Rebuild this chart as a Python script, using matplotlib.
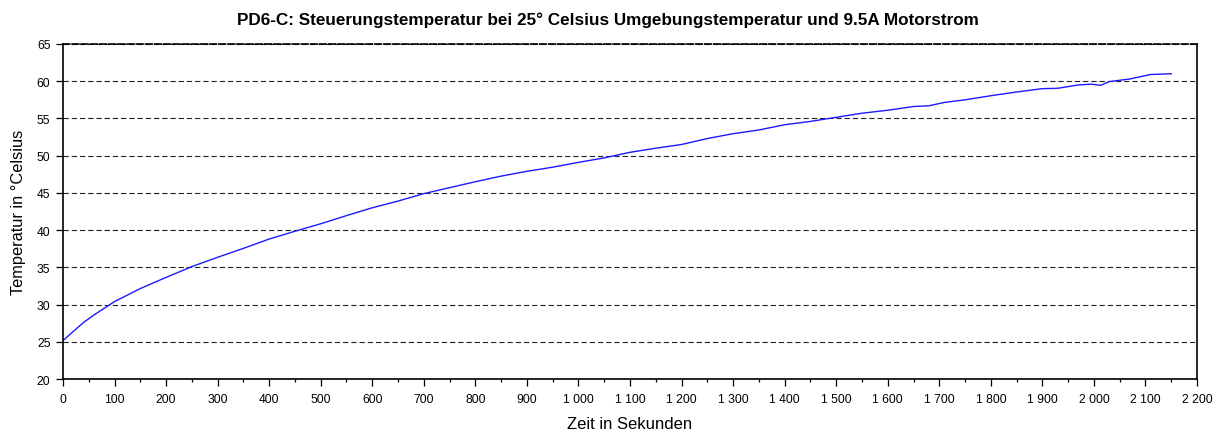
import matplotlib
matplotlib.use('Agg')
import matplotlib.pyplot as plt
from matplotlib.ticker import MultipleLocator, FuncFormatter

plt.rcParams['font.family'] = ['Liberation Sans', 'DejaVu Sans']

zeit = [0, 20, 40, 60, 80, 100, 150, 200, 250, 300, 350, 400, 450, 500, 550,
        600, 650, 700, 750, 800, 850, 900, 950, 1000, 1050, 1100, 1150, 1200,
        1250, 1300, 1350, 1400, 1450, 1500, 1550, 1600, 1650, 1680, 1710, 1750,
        1800, 1850, 1900, 1930, 1970, 1995, 2013, 2030, 2070, 2110, 2150]
temperatur = [25.15, 26.4, 27.6, 28.6, 29.5, 30.4, 32.15, 33.65, 35.1, 36.35,
              37.55, 38.8, 39.85, 40.85, 41.95, 43.0, 43.9, 44.9, 45.7, 46.5,
              47.25, 47.9, 48.45, 49.1, 49.7, 50.45, 51.0, 51.5, 52.3, 52.95,
              53.45, 54.15, 54.6, 55.15, 55.7, 56.1, 56.6, 56.7, 57.15, 57.5,
              58.05, 58.55, 59.0, 59.05, 59.5, 59.6, 59.45, 59.95, 60.3, 60.9,
              61.0]

titel = 'PD6-C: Steuerungstemperatur bei 25° Celsius Umgebungstemperatur und 9.5A Motorstrom'

fig = plt.figure(figsize=(12.16, 4.35), dpi=100)
ax = fig.add_axes([0.0518, 0.1264, 0.9326, 0.7702])

ax.plot(zeit, temperatur, color='#1a1aff', linewidth=1.0)

ax.set_xlim(0, 2200)
ax.set_ylim(20, 65)
ax.xaxis.set_major_locator(MultipleLocator(100))
ax.xaxis.set_minor_locator(MultipleLocator(50))
ax.yaxis.set_major_locator(MultipleLocator(5))
ax.xaxis.set_major_formatter(FuncFormatter(lambda v, p: f'{int(v):,}'.replace(',', ' ')))

ax.yaxis.grid(True, color='#222222', linestyle=(0, (4.8, 2.6)), linewidth=0.8)
ax.set_axisbelow(True)

ax.tick_params(axis='both', which='major', direction='out', length=5, width=0.9,
               labelsize=8.7, pad=5, color='black')
ax.tick_params(axis='x', which='minor', direction='out', length=2.5, width=0.9)
ax.tick_params(axis='y', right=False, pad=4)

for s in ['left', 'bottom', 'right']:
    ax.spines[s].set_linewidth(1.2)
ax.spines['top'].set_linestyle((0, (4, 1.5)))
ax.spines['top'].set_linewidth(1.2)

ax.set_xlabel('Zeit in Sekunden', fontsize=12, labelpad=8)
ax.set_ylabel('Temperatur in °Celsius', fontsize=11.8, labelpad=8)
fig.text(0.5, 0.953, titel, ha='center', va='center', fontsize=12.3, fontweight='bold')

fig.savefig('out.png', dpi=100)
